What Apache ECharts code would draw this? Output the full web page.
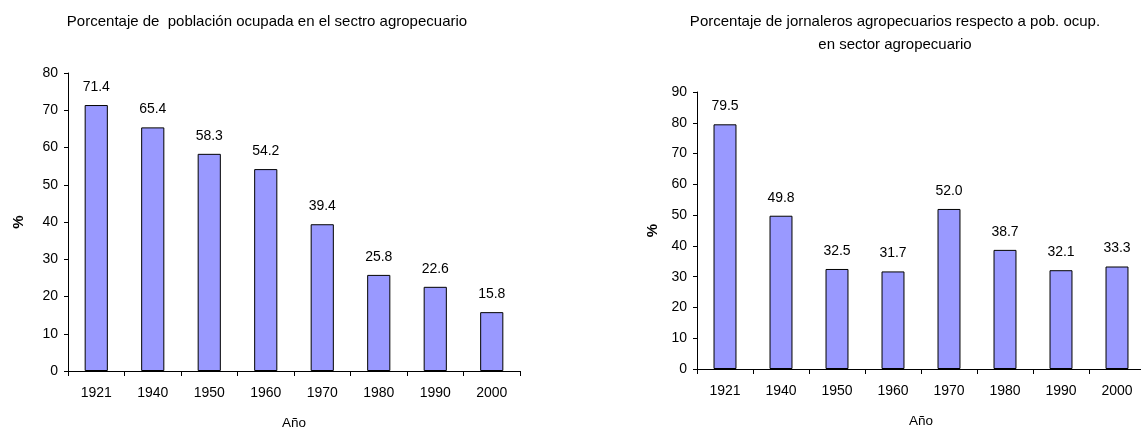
<!DOCTYPE html>
<html>
<head>
<meta charset="utf-8">
<script src="https://cdn.jsdelivr.net/npm/echarts@6/dist/echarts.min.js"></script>
<style>
html,body{margin:0;padding:0;background:#fff;}
#c{width:1141px;height:428px;}
</style>
</head>
<body>
<div id="c"></div>
<script>
const years = ['1921','1940','1950','1960','1970','1980','1990','2000'];
const ocupada = [71.4, 65.4, 58.3, 54.2, 39.4, 25.8, 22.6, 15.8];
const jornaleros = [79.5, 49.8, 32.5, 31.7, 52.0, 38.7, 32.1, 33.3];
const title1 = 'Porcentaje de  población ocupada en el sectro agropecuario';
const title2 = 'Porcentaje de jornaleros agropecuarios respecto a pob. ocup.\nen sector agropecuario';

const FONT = 'Liberation Sans, Arial, sans-serif';
const chart = echarts.init(document.getElementById('c'), null, {renderer:'canvas'});
const axisLine = {show:true, lineStyle:{color:'#000', width:1}};
function xAx(gi){
  return {
    type:'category', gridIndex:gi, data:years,
    axisLine:axisLine,
    axisTick:{show:true, alignWithLabel:false, length:5, lineStyle:{color:'#000'}},
    axisLabel:{color:'#000', fontFamily:FONT, fontSize:14, margin:15},
    name:'Año', nameLocation:'middle', nameGap:45,
    nameTextStyle:{color:'#000', fontFamily:FONT, fontSize:13.5}
  };
}
function yAx(gi, max, gap){
  return {
    type:'value', gridIndex:gi, min:0, max:max, interval:10,
    axisLine:axisLine,
    axisTick:{show:true, length:4, lineStyle:{color:'#000'}},
    splitLine:{show:false},
    axisLabel:{color:'#000', fontFamily:FONT, fontSize:14, margin:10},
    name:'%', nameLocation:'middle', nameGap:gap, nameRotate:90,
    nameTextStyle:{color:'#000', fontFamily:FONT, fontSize:15, fontWeight:'bold'}
  };
}
function barSeries(xi, data){
  return {
    type:'bar', xAxisIndex:xi, yAxisIndex:xi, data:data, barWidth:'41%',
    itemStyle:{color:'#9999FF', borderColor:'#000', borderWidth:1},
    label:{show:true, position:'top', distance:11, color:'#000', fontFamily:FONT, fontSize:14,
      formatter:p=>p.value.toFixed(1)},
    silent:true, animation:false
  };
}
chart.setOption({
  animation:false,
  backgroundColor:'#fff',
  title:[
    {text:title1, left:262, textAlign:'center', top:9,
      textStyle:{color:'#000', fontFamily:FONT, fontSize:15, fontWeight:'normal'}},
    {text:title2, left:890, textAlign:'center', top:5,
      textStyle:{color:'#000', fontFamily:FONT, fontSize:15, fontWeight:'normal', lineHeight:23}}
  ],
  grid:[
    {left:68, top:73, width:452, height:298, outerBoundsMode:'none', containLabel:false},
    {left:697, top:92, width:448, height:277, outerBoundsMode:'none', containLabel:false}
  ],
  xAxis:[xAx(0), xAx(1)],
  yAxis:[yAx(0,80,42), yAx(1,90,37)],
  series:[barSeries(0, ocupada), barSeries(1, jornaleros)]
});
</script>
</body>
</html>
